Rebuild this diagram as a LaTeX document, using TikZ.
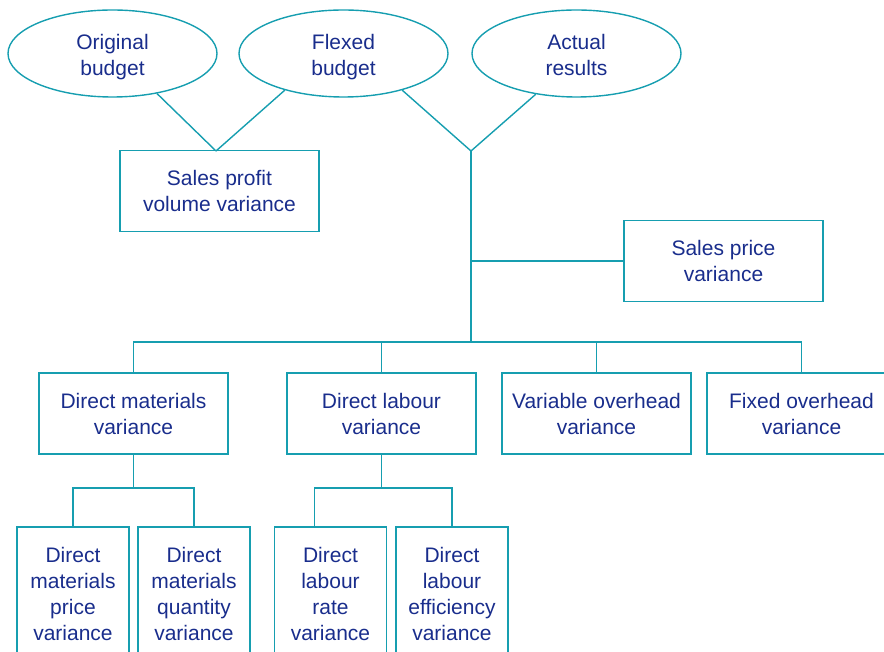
\documentclass[tikz,border=0pt]{standalone}
\usepackage{fontspec}
\setmainfont{Liberation Sans}
\usepackage{tikz}
\usetikzlibrary{shapes.geometric}
\usepackage{xcolor}
\definecolor{linec}{RGB}{22,158,176}
\definecolor{textc}{RGB}{25,45,140}

\begin{document}
\begin{tikzpicture}[x=1pt,y=-1pt,line width=1.4pt]
    \tikzstyle{every node}=[font=\fontsize{21}{26}\selectfont,text=textc,align=center,inner sep=0pt]
    \tikzstyle{ell}=[ellipse,draw=linec,minimum width=209pt,minimum height=87pt,text height=52pt,text depth=7pt]
    \tikzstyle{box}=[rectangle,draw=linec,minimum width=189pt,minimum height=81pt]
    \tikzstyle{widebox}=[box,minimum width=199pt]
    \tikzstyle{tallbox}=[box,minimum width=112pt,minimum height=133pt]
    \useasboundingbox (0,0) rectangle (884,652);
    \clip (0,0) rectangle (884,652);
    \begin{scope}[draw=linec]
      \node[ell] (OB) at (112.5,53.5) {Original\\budget};
      \node[ell] (FB) at (343.5,53.5) {Flexed\\budget};
      \node[ell] (AR) at (576.5,53.5) {Actual\\results};
      \node[widebox] (SPV) at (219.5,191) {Sales profit\\volume variance};
      \node[widebox] (SPR) at (723.5,261) {Sales price\\variance};
      \node[box] (DMV) at (133.5,413.5) {Direct materials\\variance};
      \node[box] (DLV) at (381.5,413.5) {Direct labour\\variance};
      \node[box] (VOV) at (596.5,413.5) {Variable overhead\\variance};
      \node[box] (FOV) at (801.5,413.5) {Fixed overhead\\variance};
      \node[tallbox] (DMP) at (73,593.5) {Direct\\materials\\price\\variance};
      \node[tallbox] (DMQ) at (194,593.5) {Direct\\materials\\quantity\\variance};
      \node[tallbox] (DLR) at (330.5,593.5) {Direct\\labour\\rate\\variance};
      \node[tallbox] (DLE) at (452,593.5) {Direct\\labour\\efficiency\\variance};
      \coordinate (K) at (216,151);
      \coordinate (J) at (471,151);
      \coordinate (B) at (471,342);
      \coordinate (dmj) at (132,488);
      \coordinate (dlj) at (384,488);
      \draw (OB.318) to (K);
      \draw (FB.212) to (K);
      \draw (FB.328) to (J);
      \draw (AR.225) to (J);
      \draw (J) to (B);
      \draw (J |- SPR.west) to (SPR.west);
      \draw (DMV.north) |- (B) -| (FOV.north);
      \draw (DLV.north) to (DLV.north |- B);
      \draw (VOV.north) to (VOV.north |- B);
      \draw (DMV.south) to (DMV.south |- dmj);
      \draw (DMP.north) |- (dmj) -| (DMQ.north);
      \draw (DLV.south) to (DLV.south |- dlj);
      \draw ([xshift=-16pt]DLR.north) |- (dlj) -| (DLE.north);
    \end{scope}
  \end{tikzpicture}
\end{document}
